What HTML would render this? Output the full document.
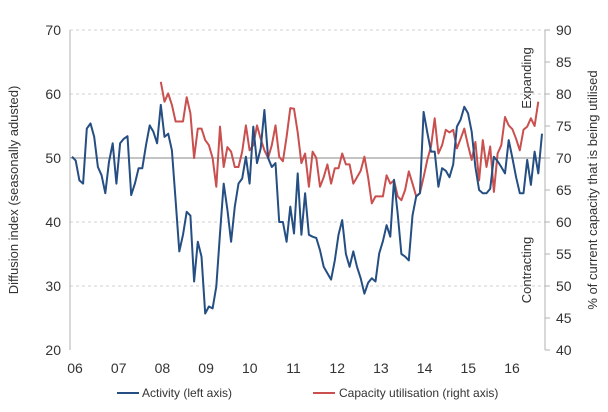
<!DOCTYPE html>
<html><head><meta charset="utf-8"><style>
html,body{margin:0;padding:0;background:#fff}
svg{display:block;font-family:"Liberation Sans",sans-serif}
</style></head><body>
<svg id="chart" width="608" height="412" viewBox="0 0 608 412">
<g id="grid"></g>
<g id="axes"></g>
<g id="series"></g>
<text transform="translate(18,190) rotate(-90)" text-anchor="middle" font-size="13" fill="#333">Diffusion index (seasonally adusted)</text>
<text transform="translate(597,190) rotate(-90)" text-anchor="middle" font-size="13" fill="#333">% of current capacity that is being utilised</text>
<text transform="translate(531,78) rotate(-90)" text-anchor="middle" font-size="13" fill="#333">Expanding</text>
<text transform="translate(531,270) rotate(-90)" text-anchor="middle" font-size="13" fill="#333">Contracting</text>
<g>
<line x1="117" y1="393" x2="139" y2="393" stroke="#254e82" stroke-width="2"/>
<text x="142" y="397" font-size="12" fill="#333">Activity (left axis)</text>
<line x1="313" y1="393" x2="335" y2="393" stroke="#c9504e" stroke-width="2"/>
<text x="339" y="397" font-size="12" fill="#333">Capacity utilisation (right axis)</text>
</g>
</svg>
<script>
const yearLabels = ["06","07","08","09","10","11","12","13","14","15","16"];
const leftTicks = [20,30,40,50,60,70];
const rightTicks = [40,45,50,55,60,65,70,75,80,85,90];
const activity = [50.2,49.6,46.5,46,54.6,55.4,53.3,48.6,47.3,44.5,49.4,52.3,
46,52.3,53,53.4,44.2,46,48.4,48.4,52,55.1,54.1,52.3,
58.3,53.3,53.8,51.2,43.4,35.4,38,41.6,41,30.7,36.9,34.6,
25.7,26.8,26.5,29.9,38.2,46,41.9,36.9,42.4,46,46.8,50.2,
46,54.9,49.2,51.5,57.5,50,48.6,49.2,40,40,36.9,42.4,
38.2,47.6,38,44.5,38,37.7,37.5,35.6,33,32,31,34,
38,40.3,35,33,35.4,33,31.2,28.8,30.5,31.2,30.7,35.1,
37,39.5,37.7,46.6,41.3,35,34.6,34,41,44,44.5,57.2,
54,51,51,45.5,48.4,48,47,49,54.9,56,58,57,
54.1,48.6,45,44.5,44.5,45.2,50.2,49.5,48.6,47.6,52.8,50,
47,44.5,44.5,49.7,45.8,51,47.6,53.8];
const capacity = [null,null,null,null,null,null,null,null,null,null,null,null,
null,null,null,null,null,null,null,null,null,null,null,null,
81.9,78.8,80.1,78.3,75.7,75.7,75.7,79.5,77,70,74.6,74.6,
72.8,72,70,65.5,74.9,68.6,71.7,71,68.6,68.6,71,75.1,
71.2,72,75.1,73,71.2,70,72,75.1,70.2,69.5,73.3,77.8,
77.7,74,69.2,70.7,65.5,71,70,65.5,67,69,66,68.4,
68.4,70.7,69,69,66,67,68,70.2,67,62.9,64,64,
64,67.3,66,66.5,64,63.4,65,67.9,66,64,64.5,67,
69.7,71.8,76.2,70.7,72,74.4,74,74.4,71.5,73,74.6,72,
69.7,72.5,66.5,72.8,68.6,71.8,64.7,70.7,72,76.4,75.1,74.5,
73,71.2,74.4,74.9,76.2,75,78.8];

const NS="http://www.w3.org/2000/svg";
const X0=70,X1=545,YT=30,YB=350;
const yL=v=>YB-(v-20)/50*(YB-YT);
const yR=v=>YB-(v-40)/50*(YB-YT);
const xI=i=>72+i*(542-72)/(activity.length-1);
const xYear=k=>75+k*43.7;
function mk(tag,attrs,parent){const e=document.createElementNS(NS,tag);for(const k in attrs)e.setAttribute(k,attrs[k]);parent.appendChild(e);return e;}
const grid=document.getElementById('grid'),axes=document.getElementById('axes'),series=document.getElementById('series');
leftTicks.forEach(v=>{
  const y=yL(v);
  if(v!==20&&v!==50){const l=mk('line',{x1:X0,x2:X1,y1:y,y2:y,stroke:'#d0d0d0','stroke-dasharray':'3,3'},grid);
  
  }
  const t=mk('text',{x:61,y:y+5,'text-anchor':'end','font-size':'14',fill:'#333'},axes);t.textContent=v;
  
  
});
const mid=mk('line',{x1:X0,x2:X1,y1:yL(50),y2:yL(50),stroke:'#b0b0b0','stroke-width':1.5},grid);


rightTicks.forEach(v=>{
  const y=yR(v);
  const tk=mk('line',{x1:X1,x2:X1+5,y1:y,y2:y,stroke:'#b0b0b0'},axes);
  
  
  const t=mk('text',{x:556,y:y+5,'font-size':'14',fill:'#333'},axes);t.textContent=v;
  
  
});
const la=mk('line',{x1:X0,x2:X0,y1:YT,y2:YB,stroke:'#b0b0b0'},axes);


const ra=mk('line',{x1:X1,x2:X1,y1:YT,y2:YB,stroke:'#b0b0b0'},axes);


yearLabels.forEach((s,k)=>{
  const t=mk('text',{x:xYear(k),y:373,'text-anchor':'middle','font-size':'14',fill:'#333'},axes);t.textContent=s;
  
  
});
function pathFor(arr,yf){let d='',pen=false;arr.forEach((v,i)=>{if(v==null){pen=false;return;}d+=(pen?'L':'M')+xI(i).toFixed(1)+','+yf(v).toFixed(1);pen=true;});return d;}
const pc=mk('path',{d:pathFor(capacity,yR),fill:'none',stroke:'#c9504e','stroke-width':2,'stroke-linejoin':'round'},series);


const pa=mk('path',{d:pathFor(activity,yL),fill:'none',stroke:'#254e82','stroke-width':2,'stroke-linejoin':'round'},series);


</script>
</body></html>
